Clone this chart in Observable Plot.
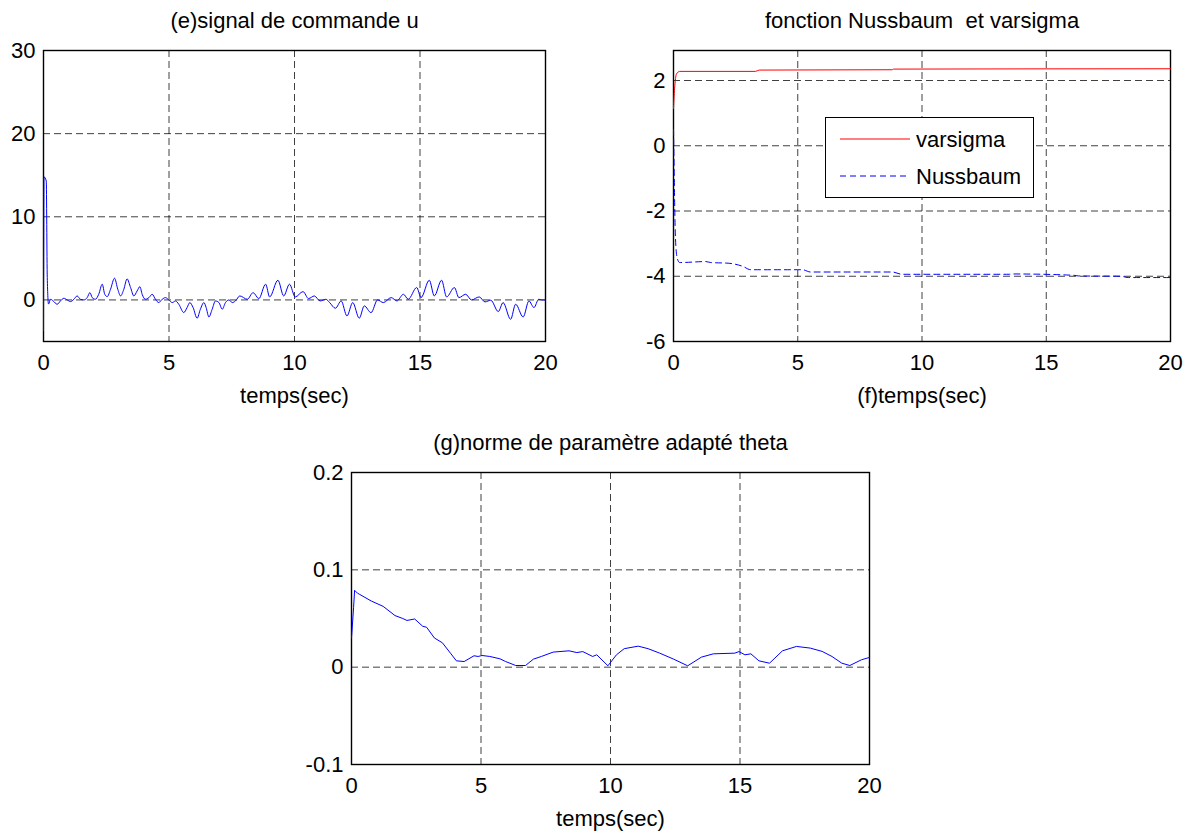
<!DOCTYPE html>
<html>
<head>
<meta charset="utf-8">
<script src="https://cdn.jsdelivr.net/npm/d3@7"></script>
<script src="https://cdn.jsdelivr.net/npm/@observablehq/plot@0.6"></script>
<style>
  html, body { margin: 0; padding: 0; background: #fff; }
  #root { position: relative; width: 1193px; height: 832px; background: #fff; overflow: hidden; }
  .panel { position: absolute; }
  .legend { position: absolute; border: 1px solid #000; background: #fff; font-family: "Liberation Sans", Arial, sans-serif; font-size: 22px; color: #000; }
</style>
</head>
<body>
<div id="root"></div>
<script>
// ---- data ----
const timeTicks = [0, 5, 10, 15, 20];

// (e) signal de commande u
const uTicks = [0, 10, 20, 30];
const uSeries = [
  [0,-3.7],[0.02,14.8],[0.11,14.3],[0.15,2.7],[0.2,-0.5],[0.28,0.08],[0.385,-0.12],[0.545,-0.52],[0.677,-0.12],[0.81,0.2],
  [0.943,0],[1.076,-0.2],[1.21,0.08],[1.34,0.48],[1.47,0.08],[1.61,0],[1.74,0.28],[1.85,0.88],[1.94,0.28],[2.07,0.08],
  [2.2,0.68],[2.34,1.89],[2.44,0.68],[2.54,0.4],[2.67,1.28],[2.83,2.61],[2.96,1.28],[3.07,0.48],[3.2,1.28],[3.33,2.53],
  [3.47,1.48],[3.6,0.48],[3.73,1.08],[3.84,1.6],[3.93,0.68],[4.06,0.08],[4.2,0.28],[4.33,0.68],[4.46,0.08],[4.59,-0.32],
  [4.73,0.08],[4.86,0.28],[4.99,0],[5.13,-0.32],[5.26,-0.12],[5.39,-0.52],[5.59,-1.52],[5.72,-0.92],[5.83,-0.32],[5.96,-0.92],
  [6.12,-2.2],[6.25,-1.12],[6.39,-0.32],[6.48,-0.92],[6.59,-2.05],[6.72,-1.12],[6.85,-0.12],[6.99,-0.32],[7.12,-1.12],[7.25,-0.32],
  [7.39,0],[7.52,-0.32],[7.65,-0.12],[7.82,0.48],[8.12,0.08],[8.35,0.88],[8.58,0.16],[8.85,1.89],[9.01,0.36],[9.34,2.37],
  [9.57,0.48],[9.8,1.89],[10.03,0.36],[10.34,1.0],[10.56,0.16],[10.79,0.48],[11.02,-0.12],[11.25,0.08],[11.4,-0.32],[11.63,-1.0],
  [11.86,-0.12],[12.09,-1.93],[12.32,-0.32],[12.58,-2.2],[12.78,-0.72],[13.05,-1.53],[13.31,0],[13.54,-0.32],[13.85,0.28],[14.08,-0.12],
  [14.34,0.68],[14.53,0.08],[14.87,1.49],[15.04,0.28],[15.37,2.37],[15.57,0.48],[15.86,2.37],[16.06,0.36],[16.37,1.49],[16.55,0.28],
  [16.82,0.68],[17.05,0],[17.36,0.36],[17.59,-0.24],[17.82,-0.04],[18.12,-1.4],[18.31,-0.32],[18.61,-2.33],[18.81,-0.52],[19.11,-2.05],
  [19.34,-0.12],[19.54,-0.92],[19.73,0.08],[19.85,0],[20,0]
];

// (f) fonction Nussbaum et varsigma
const fTicks = [-6, -4, -2, 0, 2];
const varsigmaSeries = [
  [0,1.14],[0.03,1.6],[0.06,1.9],[0.12,2.2],[0.25,2.28],[3.3,2.28],[3.45,2.32],[8.8,2.33],[8.85,2.35],[20,2.36]
];
const nussbaumSeries = [
  [0,0.5],[0.02,-0.4],[0.05,-1.9],[0.08,-2.85],[0.15,-3.45],[0.25,-3.58],[1.3,-3.55],[1.5,-3.58],[2.2,-3.6],[2.8,-3.7],
  [3.1,-3.8],[5.2,-3.8],[5.5,-3.87],[8.8,-3.87],[9.2,-3.94],[13.5,-3.94],[13.7,-3.93],[16.1,-3.97],[16.3,-3.99],[18,-4.0],
  [18.3,-4.04],[20,-4.04]
];
const legendLabels = ["varsigma", "Nussbaum"];

// (g) norme de paramètre adapté theta
const gTicks = [-0.1, 0, 0.1, 0.2];
const thetaSeries = [
  [0,0.03],[0.08,0.061],[0.12,0.079],[0.23,0.076],[0.3,0.075],[0.76,0.068],[1.22,0.0625],[1.68,0.053],[1.98,0.05],[2.14,0.048],
  [2.44,0.0495],[2.75,0.042],[2.9,0.041],[3.2,0.03],[3.51,0.025],[3.82,0.0144],[4.05,0.0065],[4.35,0.0058],[4.73,0.0117],[4.89,0.011],
  [5.04,0.012],[5.34,0.011],[5.73,0.0086],[5.95,0.0058],[6.34,0.0017],[6.72,0.0017],[7.02,0.0082],[7.33,0.011],[7.79,0.0155],[8.4,0.0168],
  [8.7,0.015],[8.93,0.016],[9.31,0.011],[9.47,0.0127],[9.9,0.0014],[10.23,0.0127],[10.53,0.019],[11.07,0.0216],[11.45,0.019],[11.9,0.0144],
  [12.44,0.0082],[12.98,0.0014],[13.51,0.0103],[13.97,0.0137],[14.8,0.0144],[14.96,0.016],[15.19,0.0127],[15.42,0.0137],[15.73,0.0065],[16.14,0.0041],
  [16.64,0.0168],[17.18,0.0213],[17.71,0.0196],[18.17,0.0162],[18.55,0.011],[18.93,0.0041],[19.24,0.0017],[19.69,0.0076],[20,0.01]
];

const titles = ["(e)signal de commande u", "fonction Nussbaum  et varsigma", "(g)norme de paramètre adapté theta"];
const xLabels = ["temps(sec)", "(f)temps(sec)", "temps(sec)"];

// ---- drawing ----
const FONT = "'Liberation Sans', Arial, Helvetica, sans-serif";
const FS = 22;
const gridStyle = {stroke: "#000", strokeOpacity: 0.75, strokeWidth: 1, strokeDasharray: "7,4"};

function panel({left, top, width, height, margin, yDomain, yTicks, lines, title, xLabel}) {
  const chart = Plot.plot({
    width, height,
    marginLeft: margin[3], marginRight: margin[1], marginTop: margin[0], marginBottom: margin[2],
    style: {fontFamily: FONT, fontSize: FS + "px", background: "transparent", overflow: "visible"},
    x: {domain: [0, 20]},
    y: {domain: yDomain},
    marks: [
      Plot.gridX(timeTicks, gridStyle),
      Plot.gridY(yTicks, gridStyle),
      Plot.frame({stroke: "#000", strokeWidth: 1.4}),
      ...lines,
      Plot.axisX(timeTicks, {tickSize: 0, tickPadding: 13, tickFormat: d => String(d), label: null, fontSize: FS}),
      Plot.axisY(yTicks, {tickSize: 0, tickPadding: 8, tickFormat: d => String(d), label: null, fontSize: FS}),
      Plot.text([title], {frameAnchor: "top", dy: -30, lineAnchor: "middle", fontSize: FS, fill: "#000"}),
      Plot.text([xLabel], {frameAnchor: "bottom", dy: 54, lineAnchor: "middle", fontSize: FS, fill: "#000"})
    ]
  });
  const wrap = document.createElement("div");
  wrap.className = "panel";
  wrap.style.left = left + "px";
  wrap.style.top = top + "px";
  wrap.appendChild(chart);
  document.getElementById("root").appendChild(wrap);
}

const lineOpts = {x: d => d[0], y: d => d[1], strokeWidth: 1};

panel({
  left: 0, top: 0, width: 600, height: 420, margin: [50, 55, 79, 43],
  yDomain: [-5, 30], yTicks: uTicks,
  lines: [Plot.line(uSeries, {...lineOpts, stroke: "#0000ff", curve: "monotone-x"})],
  title: titles[0], xLabel: xLabels[0]
});

panel({
  left: 600, top: 0, width: 593, height: 420, margin: [50, 23, 79, 73],
  yDomain: [-6, 2.92], yTicks: fTicks,
  lines: [
    Plot.line(varsigmaSeries, {...lineOpts, stroke: "#ff0000", curve: "monotone-x"}),
    Plot.line(nussbaumSeries, {...lineOpts, stroke: "#0000ff", strokeDasharray: "6,4", curve: "monotone-x"})
  ],
  title: titles[1], xLabel: xLabels[1]
});

panel({
  left: 0, top: 420, width: 1193, height: 412, margin: [52, 324, 68, 351],
  yDomain: [-0.1, 0.2], yTicks: gTicks,
  lines: [Plot.line(thetaSeries, {...lineOpts, stroke: "#0000ff", curve: "linear"})],
  title: titles[2], xLabel: xLabels[2]
});

// legend for panel (f)
const legend = document.createElement("div");
legend.className = "legend";
legend.style.left = "825px";
legend.style.top = "117px";
legend.style.width = "207px";
legend.style.height = "79px";
const colors = ["#ff0000", "#0000ff"];
const dashes = ["none", "6,4"];
let html = '<svg width="207" height="79" style="position:absolute;left:0;top:0">';
legendLabels.forEach((lab, i) => {
  const y = i === 0 ? 21 : 58;
  html += `<line x1="14" x2="84" y1="${y}" y2="${y}" stroke="${colors[i]}" stroke-width="1" stroke-dasharray="${dashes[i]}"/>`;
  html += `<text x="90" y="${y}" dy="0.35em" font-family="${FONT.replace(/'/g, "")}" font-size="${FS}" fill="#000">${lab}</text>`;
});
html += "</svg>";
legend.innerHTML = html;
document.getElementById("root").appendChild(legend);
</script>
</body>
</html>
